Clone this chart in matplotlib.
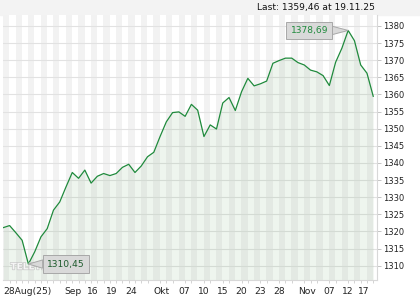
import matplotlib
import matplotlib.pyplot as plt
import matplotlib.patheffects as pe
from matplotlib.patches import Rectangle

matplotlib.use("Agg")

# daily closes, 28 Aug 2025 .. 19 Nov 2025 (trading days)
closes = [
    1321.1, 1321.7, 1319.6, 1317.4, 1310.45, 1314.0, 1318.4, 1320.8, 1326.2, 1328.6,
    1333.0, 1337.2, 1335.5, 1337.9, 1334.1, 1336.1, 1336.9, 1336.3, 1336.9, 1338.7,
    1339.6, 1337.2, 1339.1, 1341.8, 1343.1, 1347.7, 1352.0, 1354.7, 1354.9, 1353.6,
    1357.1, 1355.4, 1347.7, 1351.1, 1349.9, 1357.5, 1359.1, 1355.3, 1360.8, 1364.7,
    1362.5, 1363.1, 1363.9, 1369.1, 1369.9, 1370.6, 1370.6, 1369.3, 1368.6, 1367.1,
    1366.6, 1365.5, 1362.6, 1369.4, 1373.5, 1378.69, 1375.7, 1368.6, 1366.2, 1359.46,
]
tick_pos = [0, 9.8, 13.3, 16.4, 19.4, 24, 28, 31, 34, 37, 40, 43, 47, 51, 54, 56.6]
tick_labels = ["28Aug(25)", "Sep", "16", "19", "24", "Okt", "07", "10", "15",
               "20", "23", "28", "Nov", "07", "12", "17"]
y_ticks = list(range(1310, 1381, 5))
last_text = "Last: 1359,46 at 19.11.25"

LINE = "#1f8a3c"
GRID = "#e2e2e2"

fig = plt.figure(figsize=(4.2, 3.0), dpi=100)
fig.patches.append(Rectangle((0, 1 - 15 / 300), 1, 15 / 300, transform=fig.transFigure,
                             color="#f3f3f3", zorder=-5))
ax = fig.add_axes([3 / 420, 20 / 300, 374 / 420, 265 / 300])

n = len(closes)
x = list(range(n))
ax.set_xlim(-0.05, n - 1 + 0.6)
ax.set_ylim(1305.8, 1383.2)

# alternating day stripes
for k in range(0, n + 1, 2):
    ax.axvspan(k - 0.05, k + 0.95, color="#f2f2f2", lw=0, zorder=0)

for v in y_ticks:
    ax.axhline(v, color=GRID, lw=0.8, zorder=1)

ax.fill_between(x, closes, 1300, color="#5f9f5f", alpha=0.1, lw=0, zorder=2)
ax.plot(x, closes, color=LINE, lw=0.9, zorder=3)

# axes styling
for side in ["top", "left"]:
    ax.spines[side].set_visible(False)
for side in ["bottom", "right"]:
    ax.spines[side].set_color("#d8d8d8")
    ax.spines[side].set_linewidth(0.8)

ax.yaxis.tick_right()
ax.set_yticks(y_ticks)
ax.set_yticklabels([str(v) for v in y_ticks])
ax.tick_params(axis="y", length=3, width=0.6, color="#bbbbbb", pad=1.5,
               labelsize=6, labelcolor="#222222")

ax.set_xticks(tick_pos)
ax.set_xticklabels(tick_labels, ha="left")
ax.set_xticks(x, minor=True)
ax.tick_params(axis="x", which="major", length=0, pad=5, labelsize=6.6,
               labelcolor="#222222")
ax.tick_params(axis="x", which="minor", length=2.2, width=0.6, color="#cccccc")

# watermark (under the callout box)
ax.text(0.02, 0.04, "TELETRADER", transform=ax.transAxes, fontsize=6.5,
        fontweight="bold", color="white", alpha=0.8, zorder=5,
        path_effects=[pe.withStroke(linewidth=1.1, foreground="#c2c2c2")])

# high / low callouts
i_hi = closes.index(max(closes))
i_lo = closes.index(min(closes))
box = dict(boxstyle="square,pad=0.45", fc="#d9d9d9", ec="#a8a8a8", lw=0.7)
wedge = dict(arrowstyle="wedge,tail_width=0.9", fc="#d9d9d9", ec="#a8a8a8",
             lw=0.7, shrinkA=0, shrinkB=0)
ax.annotate(f"{closes[i_hi]:.2f}".replace(".", ","), (i_hi, closes[i_hi]),
            xytext=(-28, 0), textcoords="offset points", ha="center", va="center",
            fontsize=6.6, color="#1f8a3c", bbox=box, zorder=6, arrowprops=wedge)
ax.annotate(f"{closes[i_lo]:.2f}".replace(".", ","), (i_lo, closes[i_lo]),
            xytext=(27, 0), textcoords="offset points", ha="center", va="center",
            fontsize=6.6, color="#1d5a2c", bbox=box, zorder=6, arrowprops=wedge)

fig.text(375 / 420, 1 - 7.5 / 300, last_text, ha="right", va="center",
         fontsize=6.6, color="#111111")

fig.savefig("out.png", dpi=100)
